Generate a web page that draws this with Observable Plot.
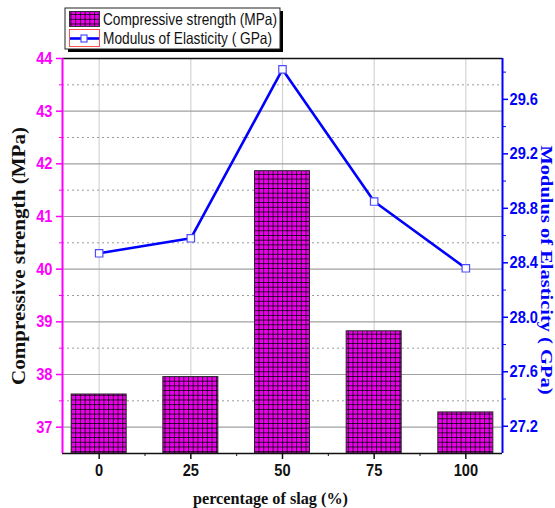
<!DOCTYPE html>
<html>
<head>
<meta charset="utf-8">
<script src="https://cdn.jsdelivr.net/npm/d3@7"></script>
<script src="https://cdn.jsdelivr.net/npm/@observablehq/plot@0.6"></script>
<style>
  html, body { margin: 0; padding: 0; background: #fff; }
  #chart { width: 555px; height: 508px; }
</style>
</head>
<body>
<div id="chart"></div>
<script>
// ---- data ----
const categories = [0, 25, 50, 75, 100];
const strength = [37.62, 37.95, 41.86, 38.82, 37.28];       // MPa
const modulus = [28.47, 28.58, 29.82, 28.85, 28.36];        // GPa
const leftTicks = [37, 38, 39, 40, 41, 42, 43, 44];
const leftMinor = [37.5, 38.5, 39.5, 40.5, 41.5, 42.5, 43.5];
const rightTicks = [27.2, 27.6, 28.0, 28.4, 28.8, 29.2, 29.6];
const rightMinor = [27.4, 27.8, 28.2, 28.6, 29.0, 29.4, 29.8];
const xMinor = [12.5, 37.5, 62.5, 87.5];
const seriesNames = ["Compressive strength (MPa)", "Modulus of Elasticity ( GPa)"];
const yTitleLeft = "Compressive strength (MPa)";
const yTitleRight = "Modulus of Elasticity ( GPa)";
const xTitle = "percentage of slag (%)";

const leftDomain = [36.5, 44];
const rightDomain = [27.0, 29.9];
const toLeft = g => leftDomain[0] + (g - rightDomain[0]) * (leftDomain[1] - leftDomain[0]) / (rightDomain[1] - rightDomain[0]);
const toRight = v => rightDomain[0] + (v - leftDomain[0]) * (rightDomain[1] - rightDomain[0]) / (leftDomain[1] - leftDomain[0]);

const rows = categories.map((c, i) => ({c, s: strength[i], m: modulus[i]}));

const sans = "'Liberation Sans', Arial, sans-serif";
const serif = "'Liberation Serif', 'Times New Roman', serif";
const MAG = "#ff00ff", BLUE = "#0000ff";

const plot = Plot.plot({
  width: 555,
  height: 508,
  marginLeft: 62,
  marginRight: 53,
  marginTop: 58,
  marginBottom: 55,
  style: {fontFamily: sans, background: "white", overflow: "visible"},
  x: {type: "linear", domain: [-10, 110]},
  y: {domain: leftDomain},
  marks: [
    // grid
    Plot.ruleX(categories, {stroke: "#d4d4d4", strokeWidth: 1.2}),
    Plot.ruleY(leftTicks.filter(d => d < 44), {stroke: "#a0a0a0", strokeWidth: 1.2}),
    Plot.ruleY(leftMinor, {stroke: "#9a9a9a", strokeDasharray: "2,3"}),
    // bars
    Plot.rect(rows, {x1: d => d.c - 7.5, x2: d => d.c + 7.5, y1: () => leftDomain[0], y2: "s",
      fill: "url(#mesh)", stroke: "#222", strokeWidth: 1}),
    // modulus line
    Plot.line(rows, {x: "c", y: d => toLeft(d.m), stroke: BLUE, strokeWidth: 2.6}),
    Plot.dot(rows, {x: "c", y: d => toLeft(d.m), symbol: "square", r: 4.2, fill: "white", stroke: "#4d4dff", strokeWidth: 1.2}),
    // frame
    Plot.ruleY([leftDomain[1]], {stroke: "#111", strokeWidth: 1.5}),
    Plot.ruleY([leftDomain[0]], {stroke: "#111", strokeWidth: 1.5}),
    Plot.ruleX([-10], {stroke: MAG, strokeWidth: 2}),
    Plot.ruleX([110], {stroke: BLUE, strokeWidth: 2}),
    // left axis
    Plot.axisY(leftTicks, {anchor: "left", color: MAG, tickSize: 6, tickPadding: 4, strokeWidth: 1.5,
      fontSize: 17, fontWeight: "bold", label: null, tickFormat: d => String(d)}),
    Plot.axisY(leftMinor, {anchor: "left", color: MAG, tickSize: 3, tickFormat: () => "", label: null}),
    // right axis
    Plot.axisY(rightTicks.map(toLeft), {anchor: "right", color: BLUE, tickSize: 5, tickPadding: 2, strokeWidth: 1.5,
      fontSize: 17, fontWeight: "bold", label: null, tickFormat: v => toRight(v).toFixed(1)}),
    Plot.axisY(rightMinor.map(toLeft), {anchor: "right", color: BLUE, tickSize: 3, tickFormat: () => "", label: null}),
    // bottom axis
    Plot.axisX(categories, {anchor: "bottom", color: "#111", tickSize: 6, tickPadding: 4, strokeWidth: 1.5,
      fontSize: 17, fontWeight: "bold", label: null, tickFormat: d => String(d)}),
    Plot.axisX(xMinor, {anchor: "bottom", color: "#111", tickSize: 3, tickFormat: () => "", label: null}),
    // titles
    Plot.text([yTitleLeft], {frameAnchor: "left", dx: -43, rotate: -90, textAnchor: "middle", lineAnchor: "middle",
      text: d => d, fontFamily: serif, fontWeight: "bold", fontSize: 18, fill: "#111"}),
    Plot.text([yTitleRight], {frameAnchor: "right", dx: 44, dy: 14, rotate: 90, textAnchor: "middle", lineAnchor: "middle",
      text: d => d, fontFamily: serif, fontWeight: "bold", fontSize: 16.5, fill: BLUE}),
    Plot.text([xTitle], {frameAnchor: "bottom", dx: -12, dy: 45, textAnchor: "middle", lineAnchor: "middle",
      text: d => d, fontFamily: serif, fontWeight: "bold", fontSize: 16, fill: "#111"})
  ]
});

const svg = d3.select(plot);
svg.insert("defs", ":first-child").html(`
  <pattern id="mesh" patternUnits="userSpaceOnUse" width="4.7" height="4.7">
    <rect width="4.7" height="4.7" fill="#ff00ff"/>
    <path d="M0,0.5 H4.7 M0.5,0 V4.7" stroke="#1a001a" stroke-width="1"/>
    <path d="M0,2.85 H4.7 M2.85,0 V4.7" stroke="#b000b0" stroke-width="0.6" opacity="0.6"/>
  </pattern>`);

// legend
const lg = svg.append("g").attr("class", "legend").attr("text-anchor", "start");
lg.append("rect").attr("x", 68).attr("y", 11).attr("width", 215).attr("height", 41).attr("fill", "#000");
lg.append("rect").attr("x", 65).attr("y", 8).attr("width", 215).attr("height", 41).attr("fill", "#fff").attr("stroke", "#222").attr("stroke-width", 1);
lg.append("rect").attr("x", 69.5).attr("y", 11.5).attr("width", 30).attr("height", 15).attr("fill", "url(#mesh)").attr("stroke", "#333");
lg.append("rect").attr("x", 69.5).attr("y", 29.5).attr("width", 30).attr("height", 17).attr("fill", "none").attr("stroke", "#ff5050").attr("stroke-width", 1);
lg.append("line").attr("x1", 70).attr("x2", 99).attr("y1", 38.5).attr("y2", 38.5).attr("stroke", BLUE).attr("stroke-width", 2.6);
lg.append("rect").attr("x", 81).attr("y", 35).attr("width", 6).attr("height", 7).attr("fill", "#fff").attr("stroke", "#4d4dff").attr("stroke-width", 1.2);
const legendLen = [174, 169];
seriesNames.forEach((name, i) => {
  lg.append("text").attr("x", 103).attr("y", 19 + i * 19.5).attr("dy", "0.36em")
    .attr("font-family", sans).attr("font-size", 16.5).attr("fill", "#111")
    .attr("textLength", legendLen[i]).attr("lengthAdjust", "spacingAndGlyphs").text(name);
});

document.getElementById("chart").appendChild(plot);

// condense tick labels (reference uses a narrow face)
svg.selectAll('g[aria-label$="tick label"] text').each(function () {
  const len = this.getComputedTextLength();
  if (len > 0) {
    d3.select(this).attr("textLength", len * 0.86).attr("lengthAdjust", "spacingAndGlyphs");
  }
});
// stretch axis titles to the reference extent
const titleLen = {[yTitleLeft]: 258, [yTitleRight]: 249, [xTitle]: 155};
svg.selectAll("text").each(function () {
  const t = this.textContent;
  if (titleLen[t] && !this.closest(".legend")) {
    d3.select(this).attr("textLength", titleLen[t]).attr("lengthAdjust", "spacingAndGlyphs");
  }
});
</script>
</body>
</html>
